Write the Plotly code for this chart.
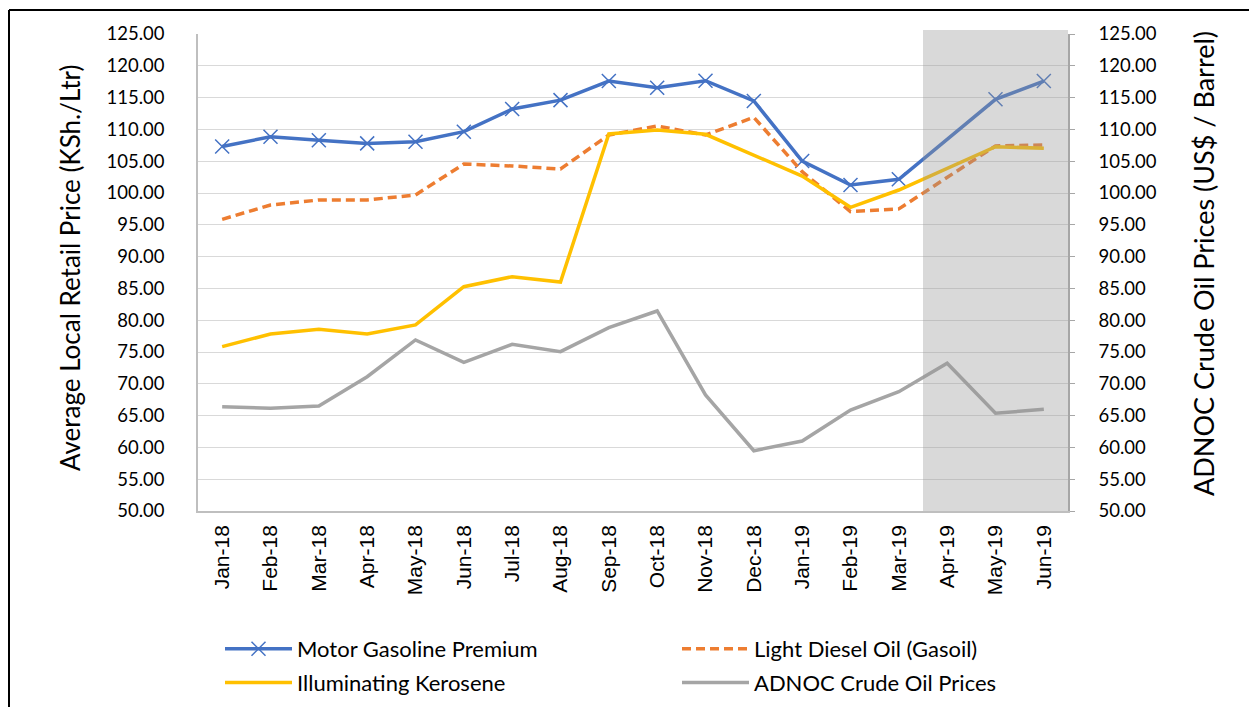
import plotly.graph_objects as go

months = ["Jan-18", "Feb-18", "Mar-18", "Apr-18", "May-18", "Jun-18", "Jul-18", "Aug-18",
          "Sep-18", "Oct-18", "Nov-18", "Dec-18", "Jan-19", "Feb-19", "Mar-19", "Apr-19",
          "May-19", "Jun-19"]

gasoline = [107.3, 108.85, 108.3, 107.8, 108.07, 109.64, 113.2, 114.6, 117.6, 116.56,
            117.66, 114.47, 105.03, 101.26, 102.15, None, 114.73, 117.6]
diesel = [95.86, 98.11, 98.9, 98.9, 99.69, 104.56, 104.25, 103.77, 109.12, 110.53,
          109.12, 111.9, 103.35, 97.07, 97.5, None, 107.4, 107.55]
kerosene = [75.84, 77.83, 78.57, 77.83, 79.25, 85.27, 86.84, 86.0, 109.28, 109.9,
            109.23, 105.97, 102.67, 97.75, 100.47, None, 107.28, 107.03]
crude = [66.4, 66.14, 66.5, 71.12, 76.89, 73.38, 76.21, 75.05, 78.82, 81.45,
         68.24, 59.48, 61.0, 65.88, 68.76, 73.22, 65.36, 65.99]

tick_vals = [50, 55, 60, 65, 70, 75, 80, 85, 90, 95, 100, 105, 110, 115, 120, 125]
tick_text = [f"{v:.2f}" for v in tick_vals]

left_title = "Average Local Retail Price (KSh./Ltr)"
right_title = "ADNOC Crude Oil Prices (US$ / Barrel)"

# the page body adds an 8px margin; work in figure pixels = screen pixels - 8
OFF = 8
FIG_W, FIG_H = 1257 - OFF, 707 - OFF
L, R, T, B = 198 - OFF, 1068 - OFF, 34 - OFF, 511 - OFF
W, H = R - L, B - T


def px_x(p):
    return (p - OFF - L) / W


def px_y(p):
    return (B - (p - OFF)) / H


fig = go.Figure()
fig.add_trace(go.Scatter(
    x=months, y=gasoline, name="Motor Gasoline Premium", mode="lines+markers",
    connectgaps=True, legend="legend", legendgroup="g1",
    line=dict(color="#4472C4", width=3.5),
    marker=dict(symbol="x-thin", size=14, line=dict(color="#4472C4", width=1.5)),
))
fig.add_trace(go.Scatter(
    x=months, y=diesel, name="Light Diesel Oil (Gasoil)", mode="lines",
    connectgaps=True, legend="legend2", legendgroup="g2",
    line=dict(color="#ED7D31", width=3.5, dash="9px,5px"),
))
fig.add_trace(go.Scatter(
    x=months, y=kerosene, name="Illuminating Kerosene", mode="lines",
    connectgaps=True, legend="legend", legendgroup="g3",
    line=dict(color="#FFC000", width=3.5),
))
fig.add_trace(go.Scatter(
    x=months, y=crude, name="ADNOC Crude Oil Prices", mode="lines",
    yaxis="y2", legend="legend2", legendgroup="g4",
    line=dict(color="#A5A5A5", width=3.5),
))

fig.add_shape(type="rect", xref="x", yref="paper", x0=14.5, x1=17.5,
              y0=0, y1=px_y(30), fillcolor="rgba(150,150,150,0.36)",
              line=dict(width=0), layer="above")

# outer border (left and top visible)
fig.add_shape(type="line", xref="paper", yref="paper",
              x0=px_x(9), x1=px_x(9), y0=px_y(10), y1=px_y(730),
              line=dict(color="black", width=2))
fig.add_shape(type="line", xref="paper", yref="paper",
              x0=px_x(9), x1=px_x(1280), y0=px_y(10), y1=px_y(10),
              line=dict(color="black", width=2))

font_main = "Lato, Calibri, sans-serif"

# axis titles as rotated annotations
fig.add_annotation(text=left_title, xref="paper", yref="paper",
                   x=px_x(70), y=px_y(268), xanchor="center", yanchor="middle",
                   textangle=-90, showarrow=False,
                   font=dict(family=font_main, size=26, color="black"))
fig.add_annotation(text=right_title, xref="paper", yref="paper",
                   x=px_x(1204), y=px_y(264), xanchor="center", yanchor="middle",
                   textangle=-90, showarrow=False,
                   font=dict(family=font_main, size=27, color="black"))

legend_common = dict(
    orientation="v", xanchor="left", yanchor="top", itemwidth=67,
    font=dict(family=font_main, size=22, color="black"),
    bgcolor="rgba(0,0,0,0)", tracegroupgap=2,
)

fig.update_layout(
    width=FIG_W, height=FIG_H,
    margin=dict(l=L, r=FIG_W - R, t=T, b=FIG_H - B, autoexpand=False),
    paper_bgcolor="white", plot_bgcolor="white",
    font=dict(family=font_main, color="black", size=18),
    showlegend=True,
    legend=dict(x=px_x(220), y=px_y(628), **legend_common),
    legend2=dict(x=px_x(677), y=px_y(628), **legend_common),
    xaxis=dict(
        type="category", range=[-0.5, 17.5],
        tickangle=-90, showgrid=False,
        tickfont=dict(family="Liberation Sans, Arial, sans-serif", size=21, color="black"),
        ticks="", ticklabelstandoff=4,
        showline=True, linecolor="#BFBFBF", linewidth=1.5,
    ),
    yaxis=dict(
        range=[50, 125], tickvals=tick_vals, ticktext=tick_text,
        showgrid=True, gridcolor="#D9D9D9", gridwidth=1.3,
        zeroline=False, ticks="", ticklabelstandoff=28,
        showline=True, linecolor="#BFBFBF", linewidth=1.5,
        tickfont=dict(family=font_main, size=18.5, color="black"),
    ),
    yaxis2=dict(
        range=[50, 125], tickvals=tick_vals, ticktext=tick_text,
        overlaying="y", side="right", showgrid=False, zeroline=False,
        ticks="outside", ticklen=5, tickcolor="#A6A6A6", ticklabelstandoff=20,
        showline=True, linecolor="#A6A6A6", linewidth=1.5,
        tickfont=dict(family=font_main, size=18.5, color="black"),
    ),
)

fig.write_html("out.html")
